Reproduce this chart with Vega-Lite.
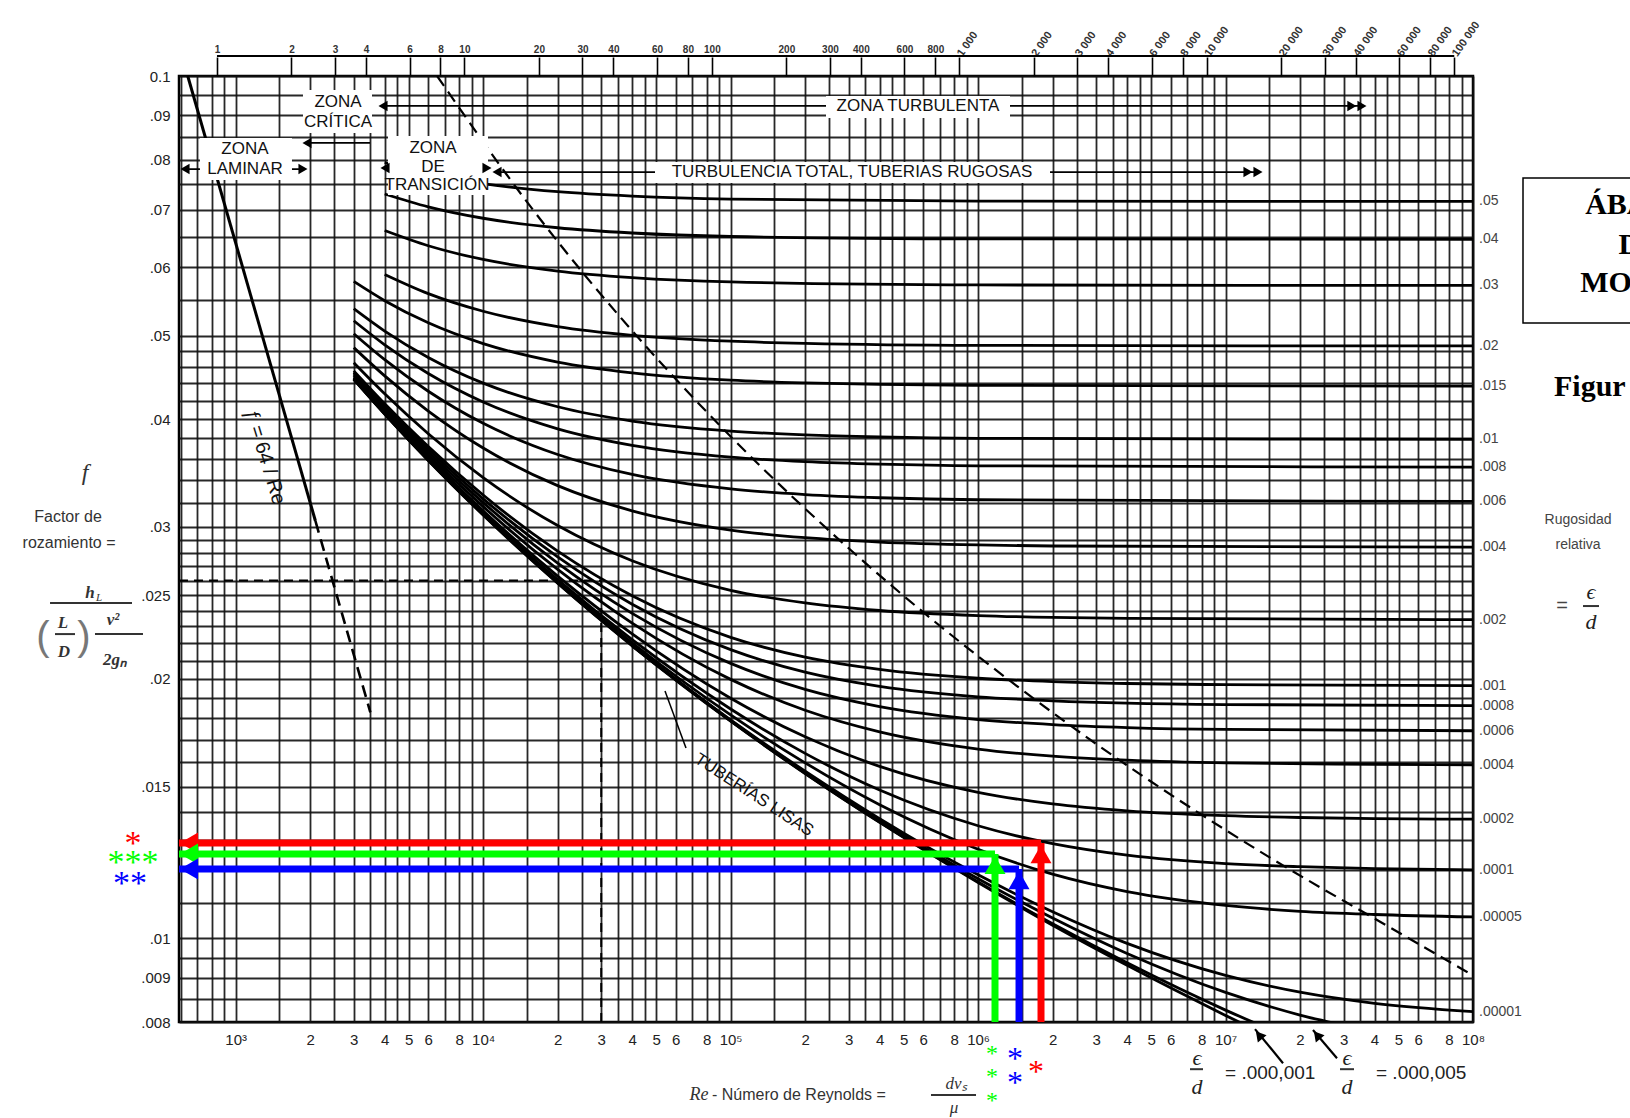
{
"$schema": "https://vega.github.io/schema/vega-lite/v6.json",
"width": 1294,
"height": 946,
"autosize": {"type": "none"},
"padding": {"left": 179, "top": 76, "right": 157, "bottom": 96},
"background": "white",
"config": {"view": {"stroke": "black", "strokeWidth": 2.5}, "font": "Liberation Sans"},
"resolve": {"axis": {"x": "independent", "y": "independent"}},
"datasets": {
"curvas": [
{"e":".05","Re":4000,"f":0.07938},{"e":".05","Re":6000,"f":0.07704},{"e":".05","Re":10000,"f":0.07504},{"e":".05","Re":20000,"f":0.07343},{"e":".05","Re":40000,"f":0.07257},{"e":".05","Re":100000,"f":0.072},{"e":".05","Re":1000000,"f":0.07161},{"e":".05","Re":100000000,"f":0.07155},
{"e":".04","Re":4000,"f":0.07298},{"e":".04","Re":6000,"f":0.07052},{"e":".04","Re":10000,"f":0.0684},{"e":".04","Re":20000,"f":0.06669},{"e":".04","Re":40000,"f":0.06576},{"e":".04","Re":100000,"f":0.06515},{"e":".04","Re":1000000,"f":0.06473},{"e":".04","Re":100000000,"f":0.06467},
{"e":".03","Re":4000,"f":0.0662},{"e":".03","Re":6000,"f":0.06356},{"e":".03","Re":10000,"f":0.06127},{"e":".03","Re":20000,"f":0.0594},{"e":".03","Re":40000,"f":0.05837},{"e":".03","Re":100000,"f":0.0577},{"e":".03","Re":1000000,"f":0.05724},{"e":".03","Re":100000000,"f":0.05717},
{"e":".02","Re":4000,"f":0.05887},{"e":".02","Re":6000,"f":0.05593},{"e":".02","Re":10000,"f":0.05336},{"e":".02","Re":20000,"f":0.05122},{"e":".02","Re":40000,"f":0.05004},{"e":".02","Re":100000,"f":0.04926},{"e":".02","Re":200000,"f":0.04897},{"e":".02","Re":1000000,"f":0.04871},{"e":".02","Re":100000000,"f":0.04864},
{"e":".015","Re":3000,"f":0.05778},{"e":".015","Re":4000,"f":0.05489},{"e":".015","Re":6000,"f":0.05174},{"e":".015","Re":10000,"f":0.04895},{"e":".015","Re":20000,"f":0.04659},{"e":".015","Re":40000,"f":0.04527},{"e":".015","Re":100000,"f":0.04439},{"e":".015","Re":200000,"f":0.04407},{"e":".015","Re":400000,"f":0.04389},{"e":".015","Re":1000000,"f":0.04378},{"e":".015","Re":100000000,"f":0.04369},
{"e":".01","Re":3000,"f":0.05373},{"e":".01","Re":4000,"f":0.05061},{"e":".01","Re":6000,"f":0.04717},{"e":".01","Re":10000,"f":0.04404},{"e":".01","Re":20000,"f":0.04135},{"e":".01","Re":40000,"f":0.0398},{"e":".01","Re":100000,"f":0.03875},{"e":".01","Re":200000,"f":0.03836},{"e":".01","Re":400000,"f":0.03815},{"e":".01","Re":1000000,"f":0.03801},{"e":".01","Re":100000000,"f":0.0379},
{"e":".008","Re":3000,"f":0.05202},{"e":".008","Re":4000,"f":0.04879},{"e":".008","Re":6000,"f":0.04519},{"e":".008","Re":10000,"f":0.04188},{"e":".008","Re":20000,"f":0.03898},{"e":".008","Re":40000,"f":0.0373},{"e":".008","Re":100000,"f":0.03614},{"e":".008","Re":200000,"f":0.03571},{"e":".008","Re":400000,"f":0.03547},{"e":".008","Re":1000000,"f":0.03532},{"e":".008","Re":100000000,"f":0.0352},
{"e":".006","Re":3000,"f":0.05025},{"e":".006","Re":4000,"f":0.04689},{"e":".006","Re":6000,"f":0.0431},{"e":".006","Re":10000,"f":0.03956},{"e":".006","Re":20000,"f":0.0364},{"e":".006","Re":40000,"f":0.03451},{"e":".006","Re":100000,"f":0.0332},{"e":".006","Re":200000,"f":0.03271},{"e":".006","Re":400000,"f":0.03243},{"e":".006","Re":1000000,"f":0.03226},{"e":".006","Re":100000000,"f":0.03212},
{"e":".004","Re":3000,"f":0.04842},{"e":".004","Re":4000,"f":0.0449},{"e":".004","Re":6000,"f":0.04088},{"e":".004","Re":10000,"f":0.03704},{"e":".004","Re":20000,"f":0.0335},{"e":".004","Re":40000,"f":0.03132},{"e":".004","Re":100000,"f":0.02975},{"e":".004","Re":200000,"f":0.02915},{"e":".004","Re":400000,"f":0.02881},{"e":".004","Re":1000000,"f":0.02859},{"e":".004","Re":2000000,"f":0.02851},{"e":".004","Re":100000000,"f":0.02842},
{"e":".002","Re":3000,"f":0.0465},{"e":".002","Re":4000,"f":0.0428},{"e":".002","Re":6000,"f":0.03847},{"e":".002","Re":10000,"f":0.03422},{"e":".002","Re":20000,"f":0.03011},{"e":".002","Re":40000,"f":0.02741},{"e":".002","Re":100000,"f":0.02533},{"e":".002","Re":200000,"f":0.02449},{"e":".002","Re":400000,"f":0.024},{"e":".002","Re":1000000,"f":0.02368},{"e":".002","Re":2000000,"f":0.02356},{"e":".002","Re":4000000,"f":0.0235},{"e":".002","Re":100000000,"f":0.02342},
{"e":".001","Re":3000,"f":0.04551},{"e":".001","Re":4000,"f":0.04169},{"e":".001","Re":6000,"f":0.03719},{"e":".001","Re":10000,"f":0.03267},{"e":".001","Re":20000,"f":0.02812},{"e":".001","Re":40000,"f":0.02496},{"e":".001","Re":100000,"f":0.02234},{"e":".001","Re":200000,"f":0.02119},{"e":".001","Re":400000,"f":0.02051},{"e":".001","Re":1000000,"f":0.02003},{"e":".001","Re":2000000,"f":0.01985},{"e":".001","Re":4000000,"f":0.01975},{"e":".001","Re":10000000,"f":0.01969},{"e":".001","Re":100000000,"f":0.01964},
{"e":".0008","Re":3000,"f":0.04531},{"e":".0008","Re":4000,"f":0.04146},{"e":".0008","Re":6000,"f":0.03692},{"e":".0008","Re":10000,"f":0.03234},{"e":".0008","Re":20000,"f":0.02769},{"e":".0008","Re":40000,"f":0.02441},{"e":".0008","Re":100000,"f":0.02162},{"e":".0008","Re":200000,"f":0.02036},{"e":".0008","Re":400000,"f":0.0196},{"e":".0008","Re":1000000,"f":0.01906},{"e":".0008","Re":2000000,"f":0.01886},{"e":".0008","Re":4000000,"f":0.01874},{"e":".0008","Re":10000000,"f":0.01867},{"e":".0008","Re":100000000,"f":0.01862},
{"e":".0006","Re":3000,"f":0.04511},{"e":".0006","Re":4000,"f":0.04124},{"e":".0006","Re":6000,"f":0.03665},{"e":".0006","Re":10000,"f":0.03201},{"e":".0006","Re":20000,"f":0.02724},{"e":".0006","Re":40000,"f":0.02382},{"e":".0006","Re":100000,"f":0.02084},{"e":".0006","Re":200000,"f":0.01944},{"e":".0006","Re":400000,"f":0.01857},{"e":".0006","Re":1000000,"f":0.01794},{"e":".0006","Re":2000000,"f":0.0177},{"e":".0006","Re":4000000,"f":0.01756},{"e":".0006","Re":10000000,"f":0.01747},{"e":".0006","Re":100000000,"f":0.01741},
{"e":".0004","Re":3000,"f":0.0449},{"e":".0004","Re":4000,"f":0.04101},{"e":".0004","Re":6000,"f":0.03638},{"e":".0004","Re":10000,"f":0.03167},{"e":".0004","Re":20000,"f":0.02678},{"e":".0004","Re":40000,"f":0.02321},{"e":".0004","Re":100000,"f":0.01997},{"e":".0004","Re":200000,"f":0.01839},{"e":".0004","Re":400000,"f":0.01736},{"e":".0004","Re":1000000,"f":0.01658},{"e":".0004","Re":2000000,"f":0.01627},{"e":".0004","Re":4000000,"f":0.0161},{"e":".0004","Re":10000000,"f":0.01598},{"e":".0004","Re":40000000,"f":0.01592},{"e":".0004","Re":100000000,"f":0.0159},
{"e":".0002","Re":3000,"f":0.0447},{"e":".0002","Re":4000,"f":0.04078},{"e":".0002","Re":6000,"f":0.03611},{"e":".0002","Re":10000,"f":0.03132},{"e":".0002","Re":20000,"f":0.02631},{"e":".0002","Re":40000,"f":0.02255},{"e":".0002","Re":100000,"f":0.01899},{"e":".0002","Re":200000,"f":0.01713},{"e":".0002","Re":400000,"f":0.01583},{"e":".0002","Re":1000000,"f":0.01477},{"e":".0002","Re":2000000,"f":0.01432},{"e":".0002","Re":4000000,"f":0.01406},{"e":".0002","Re":10000000,"f":0.01388},{"e":".0002","Re":20000000,"f":0.01381},{"e":".0002","Re":40000000,"f":0.01377},{"e":".0002","Re":100000000,"f":0.01375},
{"e":".0001","Re":3000,"f":0.04459},{"e":".0001","Re":4000,"f":0.04066},{"e":".0001","Re":6000,"f":0.03597},{"e":".0001","Re":10000,"f":0.03115},{"e":".0001","Re":20000,"f":0.02606},{"e":".0001","Re":40000,"f":0.0222},{"e":".0001","Re":100000,"f":0.01845},{"e":".0001","Re":200000,"f":0.01639},{"e":".0001","Re":400000,"f":0.01486},{"e":".0001","Re":1000000,"f":0.01351},{"e":".0001","Re":2000000,"f":0.01288},{"e":".0001","Re":4000000,"f":0.01249},{"e":".0001","Re":10000000,"f":0.01221},{"e":".0001","Re":20000000,"f":0.01211},{"e":".0001","Re":40000000,"f":0.01205},{"e":".0001","Re":100000000,"f":0.01201},
{"e":".00005","Re":3000,"f":0.04454},{"e":".00005","Re":4000,"f":0.04061},{"e":".00005","Re":6000,"f":0.0359},{"e":".00005","Re":10000,"f":0.03106},{"e":".00005","Re":20000,"f":0.02594},{"e":".00005","Re":40000,"f":0.02202},{"e":".00005","Re":100000,"f":0.01816},{"e":".00005","Re":200000,"f":0.01598},{"e":".00005","Re":400000,"f":0.01429},{"e":".00005","Re":1000000,"f":0.01269},{"e":".00005","Re":2000000,"f":0.01187},{"e":".00005","Re":4000000,"f":0.01133},{"e":".00005","Re":10000000,"f":0.01092},{"e":".00005","Re":20000000,"f":0.01075},{"e":".00005","Re":40000000,"f":0.01066},{"e":".00005","Re":100000000,"f":0.01059},
{"e":".00001","Re":3000,"f":0.0445},{"e":".00001","Re":4000,"f":0.04056},{"e":".00001","Re":6000,"f":0.03585},{"e":".00001","Re":10000,"f":0.03099},{"e":".00001","Re":20000,"f":0.02584},{"e":".00001","Re":40000,"f":0.02188},{"e":".00001","Re":100000,"f":0.01792},{"e":".00001","Re":200000,"f":0.01563},{"e":".00001","Re":400000,"f":0.01377},{"e":".00001","Re":1000000,"f":0.01185},{"e":".00001","Re":2000000,"f":0.01074},{"e":".00001","Re":4000000,"f":0.009868},{"e":".00001","Re":10000000,"f":0.009059},{"e":".00001","Re":20000000,"f":0.008662},{"e":".00001","Re":40000000,"f":0.008409},{"e":".00001","Re":100000000,"f":0.008224},
{"e":".000005","Re":40000,"f":0.02185},{"e":".000005","Re":100000,"f":0.01789},{"e":".000005","Re":200000,"f":0.01558},{"e":".000005","Re":400000,"f":0.0137},{"e":".000005","Re":1000000,"f":0.01173},{"e":".000005","Re":2000000,"f":0.01056},{"e":".000005","Re":4000000,"f":0.009605},{"e":".000005","Re":10000000,"f":0.008657},{"e":".000005","Re":20000000,"f":0.00815},{"e":".000005","Re":40000000,"f":0.007798},
{"e":".000001","Re":40000,"f":0.02184},{"e":".000001","Re":100000,"f":0.01787},{"e":".000001","Re":200000,"f":0.01554},{"e":".000001","Re":400000,"f":0.01364},{"e":".000001","Re":1000000,"f":0.01163},{"e":".000001","Re":2000000,"f":0.0104},{"e":".000001","Re":4000000,"f":0.009369},{"e":".000001","Re":10000000,"f":0.008258},{"e":".000001","Re":20000000,"f":0.007583},
{"e":"liso","Re":3000,"f":0.04449},{"e":"liso","Re":4000,"f":0.04055},{"e":"liso","Re":6000,"f":0.03583},{"e":"liso","Re":10000,"f":0.03097},{"e":"liso","Re":20000,"f":0.02581},{"e":"liso","Re":40000,"f":0.02184},{"e":"liso","Re":100000,"f":0.01786},{"e":"liso","Re":200000,"f":0.01553},{"e":"liso","Re":400000,"f":0.01363},{"e":"liso","Re":1000000,"f":0.01161},{"e":"liso","Re":2000000,"f":0.01036},{"e":"liso","Re":4000000,"f":0.009306},{"e":"liso","Re":10000000,"f":0.008142},{"e":"liso","Re":20000000,"f":0.0074}
],
"limite": [{"Re":6514,"f":0.1},{"Re":14950,"f":0.0716},{"Re":27880,"f":0.05717},{"Re":45340,"f":0.04864},{"Re":102730,"f":0.0379},{"Re":296600,"f":0.02842},{"Re":653400,"f":0.02342},{"Re":1427000,"f":0.01964},{"Re":3966000,"f":0.0159},{"Re":8529000,"f":0.01375},{"Re":18270000,"f":0.01201},{"Re":38950000,"f":0.01059},{"Re":100000000,"f":0.00906}],
"laminar_continuo": [{"Re":640,"f":0.1},{"Re":2100,"f":0.03048}],
"laminar_discontinuo": [{"Re":2100,"f":0.03048},{"Re":3500,"f":0.01829}],
"ejemplo": [{"Re1":590,"f1":0.026,"Re2":30000,"f2":0.026},{"Re1":30000,"f1":0.008,"Re2":30000,"f2":0.026}],
"eje_superior": [{"Re":840},{"Re":84000000}],
"corchete": [{"Re1":840,"Re2":84000000,"f":0.10548}],
"cajas": [
{"Re1":1870,"Re2":3555,"f1":0.09633,"f2":0.08588},
{"Re1":717,"Re2":1688,"f1":0.08475,"f2":0.07575},
{"Re1":4125,"Re2":10460,"f1":0.0852,"f2":0.07278},
{"Re1":242900,"Re2":1345900,"f1":0.0948,"f2":0.08939},
{"Re1":49480,"Re2":1953000,"f1":0.0795,"f2":0.07515}
],
"flechas_zona": [
{"Re1":624,"Re2":1870,"f":0.078},
{"Re1":1941,"Re2":3489,"f":0.08363},
{"Re1":4012,"Re2":10363,"f":0.07822},
{"Re1":3938,"Re2":35590000,"f":0.09231},
{"Re1":11375,"Re2":13527000,"f":0.07738}
],
"puntas_zona": [
{"Re":624,"f":0.078,"dir":"izq"},{"Re":1870,"f":0.078,"dir":"der"},
{"Re":1941,"f":0.08363,"dir":"izq"},
{"Re":4012,"f":0.07822,"dir":"izq"},{"Re":10363,"f":0.07822,"dir":"der"},
{"Re":3938,"f":0.09231,"dir":"izq"},{"Re":35590000,"f":0.09231,"dir":"der"},{"Re":32400000,"f":0.09231,"dir":"der"},
{"Re":11375,"f":0.07738,"dir":"izq"},{"Re":13527000,"f":0.07738,"dir":"der"},{"Re":12320000,"f":0.07738,"dir":"der"}
],
"zonas": [
{"t":"ZONA","Re":2591,"f":0.0933},{"t":"CRÍTICA","Re":2591,"f":0.08845},
{"t":"ZONA","Re":1090,"f":0.08228},{"t":"LAMINAR","Re":1090,"f":0.078},
{"t":"ZONA","Re":6271,"f":0.0825},{"t":"DE","Re":6271,"f":0.07843},{"t":"TRANSICIÓN","Re":6508,"f":0.07472},
{"t":"ZONA TURBULENTA","Re":571700,"f":0.09231},
{"t":"TURBULENCIA TOTAL, TUBERIAS RUGOSAS","Re":309400,"f":0.07738}
],
"lam_texto": [{"t":"ƒ = 64 / Re","Re":1313,"f":0.03616}],
"lisas_texto": [{"t":"TUBERÍAS LISAS","Re":124300,"f":0.014665}],
"lisas_guia": [{"Re1":66010,"f1":0.016627,"Re2":54300,"f2":0.019358}],
"rugosidad": [{"t":".05","f":0.07155},{"t":".04","f":0.06467},{"t":".03","f":0.05717},{"t":".02","f":0.04864},{"t":".015","f":0.04369},{"t":".01","f":0.0379},{"t":".008","f":0.0352},{"t":".006","f":0.03212},{"t":".004","f":0.02842},{"t":".002","f":0.02342},{"t":".001","f":0.01964},{"t":".0008","f":0.01862},{"t":".0006","f":0.01741},{"t":".0004","f":0.0159},{"t":".0002","f":0.01375},{"t":".0001","f":0.01201},{"t":".00005","f":0.01059},{"t":".00001","f":0.008224}],
"flechas_color": [
{"serie":"rojo","Re1":1796000,"f1":0.008,"Re2":1796000,"f2":0.0129},
{"serie":"rojo","Re1":1796000,"f1":0.0129,"Re2":590,"f2":0.0129},
{"serie":"verde","Re1":1170500,"f1":0.008,"Re2":1170500,"f2":0.012527},
{"serie":"verde","Re1":1170500,"f1":0.012527,"Re2":590,"f2":0.012527},
{"serie":"azul","Re1":1463700,"f1":0.008,"Re2":1463700,"f2":0.012035},
{"serie":"azul","Re1":1463700,"f1":0.012035,"Re2":590,"f2":0.012035}
],
"puntas_arriba": [{"serie":"rojo","Re":1796000,"f":0.0129},{"serie":"verde","Re":1170500,"f":0.012527},{"serie":"azul","Re":1463700,"f":0.012035}],
"puntas_izq": [{"serie":"rojo","Re":590,"f":0.0129},{"serie":"verde","Re":590,"f":0.012527},{"serie":"azul","Re":590,"f":0.012035}],
"ast_izq": [{"serie":"rojo","t":"*","Re":384.6,"f":0.013036},{"serie":"verde","t":"***","Re":384.6,"f":0.012392},{"serie":"azul","t":"**","Re":374,"f":0.011722}],
"ast_inf_verde": [{"serie":"verde","t":"*","Re":1138300,"f":0.007422},{"serie":"verde","t":"*","Re":1138300,"f":0.006978},{"serie":"verde","t":"*","Re":1138300,"f":0.006547}],
"ast_inf": [{"serie":"azul","t":"*","Re":1410400,"f":0.007322},{"serie":"azul","t":"*","Re":1410400,"f":0.006868},{"serie":"rojo","t":"*","Re":1714400,"f":0.007072}],
"izq_sans": [{"t":"Factor de","Re":210.1,"f":0.03081},{"t":"rozamiento =","Re":212.1,"f":0.02874}],
"izq_f": [{"t":"f","Re":246,"f":0.03465}],
"izq_formula": [{"t":"h","Re":257.7,"f":0.02515},{"t":"L","Re":200.5,"f":0.023204},{"t":"D","Re":202.3,"f":0.021479},{"t":"v²","Re":319.3,"f":0.0234},{"t":"2gₙ","Re":325.3,"f":0.021025}],
"izq_sub": [{"t":"L","Re":280.3,"f":0.024812}],
"izq_par": [{"t":"(","Re":166.4,"f":0.0223},{"t":")","Re":243.7,"f":0.0223}],
"barras": [
{"Re1":177.7,"Re2":381,"f":0.02448},{"Re1":186.1,"Re2":224.2,"f":0.022537},{"Re1":270,"Re2":422,"f":0.022537},
{"Re1":645200,"Re2":980900,"f":0.006582},
{"Re1":7185000,"Re2":8108000,"f":0.007053},{"Re1":29010000,"Re2":33050000,"f":0.007053},
{"Re1":278360000,"Re2":322950000,"f":0.024289}
],
"inf_re": [{"t":"Re","Re":74510,"f":0.006582}],
"inf_sans": [{"t":"- Número de Reynolds =","Re":84070,"f":0.006582}],
"inf_serif": [{"t":"dvₛ","Re":814300,"f":0.006778},{"t":"μ","Re":799300,"f":0.006358}],
"ed_serif": [{"t":"ϵ","Re":7668000,"f":0.007263},{"t":"d","Re":7668000,"f":0.006724},{"t":"ϵ","Re":30960000,"f":0.007263},{"t":"d","Re":30960000,"f":0.006724},{"t":"ϵ","Re":299930000,"f":0.025215},{"t":"d","Re":299930000,"f":0.02327}],
"ed_sans": [{"t":"=  .000,001","Re":9950000,"f":0.006978},{"t":"=  .000,005","Re":40550000,"f":0.006978}],
"ed_flechas": [{"Re1":17075000,"f1":0.007167,"Re2":13155000,"f2":0.00785},{"Re1":28210000,"f1":0.007263,"Re2":22560000,"f2":0.00783}],
"ed_puntas": [{"Re":13655000,"f":0.007726},{"Re":23425000,"f":0.007726}],
"caja_der": [{"Re1":159250000,"Re2":473100000,"f1":0.076143,"f2":0.051706}],
"titulo_der": [{"t":"ÁBACO","Re":470000000,"f":0.070857},{"t":"DE","Re":470000000,"f":0.063687},{"t":"MOODY","Re":470000000,"f":0.05754}],
"figura": [{"t":"Figur","Re":212470000,"f":0.043587}],
"rug_texto": [{"t":"Rugosidad","Re":265720000,"f":0.030566},{"t":"relativa","Re":265720000,"f":0.028583}],
"rug_igual": [{"t":"=","Re":228860000,"f":0.024289}]
},
"layer": [
{
"data": {"name": "curvas"},
"mark": {"type": "line", "stroke": "black", "strokeWidth": 2.8, "interpolate": "monotone", "clip": true},
"encoding": {
"x": {"field": "Re", "type": "quantitative", "scale": {"type": "log", "domain": [590, 100000000], "nice": false, "zero": false},
"axis": {"orient": "bottom", "values": [600,700,800,900,1000,1500,2000,2500,3000,3500,4000,4500,5000,6000,7000,8000,9000,10000,15000,20000,25000,30000,35000,40000,45000,50000,60000,70000,80000,90000,100000,150000,200000,250000,300000,350000,400000,450000,500000,600000,700000,800000,900000,1000000,1500000,2000000,2500000,3000000,3500000,4000000,4500000,5000000,6000000,7000000,8000000,9000000,10000000,15000000,20000000,25000000,30000000,35000000,40000000,45000000,50000000,60000000,70000000,80000000,90000000,100000000],
"grid": true, "gridColor": "#111", "gridWidth": 1.8, "gridOpacity": 0.9, "ticks": false, "domain": false, "title": null,
"labelOverlap": false, "labelFlush": false, "labelPadding": 10, "labelFontSize": 15, "labelColor": "#222", "labelFont": "Liberation Sans Narrow, Liberation Sans, sans-serif",
"labelExpr": "datum.value < 999 ? '' : (abs(datum.value / pow(10, floor(log(datum.value) / LN10 + 1e-9)) - 1) < 1e-6 ? '10' + ['','','','³','⁴','⁵','⁶','⁷','⁸'][floor(log(datum.value) / LN10 + 1e-9)] : (indexof([2,3,4,5,6,8], round(datum.value / pow(10, floor(log(datum.value) / LN10 + 1e-9)) * 10) / 10) >= 0 ? toString(round(datum.value / pow(10, floor(log(datum.value) / LN10 + 1e-9)))) : ''))"}},
"y": {"field": "f", "type": "quantitative", "scale": {"type": "log", "domain": [0.008, 0.1], "nice": false, "zero": false},
"axis": {"orient": "left", "values": [0.008,0.0085,0.009,0.0095,0.01,0.011,0.012,0.013,0.014,0.015,0.016,0.017,0.018,0.019,0.02,0.021,0.022,0.023,0.024,0.025,0.026,0.027,0.028,0.029,0.03,0.032,0.034,0.036,0.038,0.04,0.042,0.044,0.046,0.048,0.05,0.055,0.06,0.065,0.07,0.075,0.08,0.085,0.09,0.095,0.1],
"grid": true, "gridColor": "#111", "gridWidth": 1.8, "gridOpacity": 0.9, "ticks": false, "domain": false, "title": null,
"labelOverlap": false, "labelFlush": false, "labelPadding": 9, "labelFontSize": 15, "labelColor": "#222", "labelFont": "Liberation Sans Narrow, Liberation Sans, sans-serif",
"labelExpr": "datum.value == 0.1 ? '0.1' : (indexof([0.09,0.08,0.07,0.06,0.05,0.04,0.03,0.025,0.02,0.015,0.01,0.009,0.008], datum.value) >= 0 ? substring(toString(datum.value), 1) : '')"}},
"detail": {"field": "e", "type": "nominal"}
}
},
{
"data": {"name": "eje_superior"},
"mark": {"type": "point", "opacity": 0},
"encoding": {
"x": {"field": "Re", "type": "quantitative", "scale": {"type": "log"},
"axis": {"orient": "top", "values": [840,1680,2520,3360,5040,6720,8400,16800,25200,33600,50400,67200,84000,168000,252000,336000,504000,672000],
"grid": false, "domain": false, "ticks": true, "tickSize": 19, "tickColor": "black", "tickWidth": 1.6, "title": null,
"labelOverlap": false, "labelFlush": false, "labelPadding": 3, "labelFontSize": 10, "labelFontWeight": "bold", "labelColor": "#333", "labelAngle": 0,
"labelExpr": "toString(round(datum.value / 840))"}},
"y": {"datum": 0.1, "type": "quantitative", "scale": {"type": "log"}, "axis": null}
}
},
{
"data": {"name": "eje_superior"},
"mark": {"type": "point", "opacity": 0},
"encoding": {
"x": {"field": "Re", "type": "quantitative", "scale": {"type": "log"},
"axis": {"orient": "top", "values": [840000,1680000,2520000,3360000,5040000,6720000,8400000,16800000,25200000,33600000,50400000,67200000,84000000],
"grid": false, "domain": false, "ticks": true, "tickSize": 19, "tickColor": "black", "tickWidth": 1.6, "title": null,
"labelOverlap": false, "labelFlush": false, "labelPadding": 2, "labelFontSize": 11, "labelFontWeight": "bold", "labelColor": "#333",
"labelAngle": -55, "labelAlign": "left", "labelBaseline": "middle",
"labelExpr": "floor(round(datum.value / 840) / 1000) + ' 000'"}},
"y": {"datum": 0.1, "type": "quantitative", "scale": {"type": "log"}, "axis": null}
}
},
{
"data": {"name": "corchete"},
"mark": {"type": "rule", "stroke": "black", "strokeWidth": 1.8},
"encoding": {
"x": {"field": "Re1", "type": "quantitative", "scale": {"type": "log"}, "axis": null},
"x2": {"field": "Re2"},
"y": {"field": "f", "type": "quantitative", "scale": {"type": "log"}, "axis": null}
}
},
{
"data": {"name": "limite"},
"mark": {"type": "line", "stroke": "black", "strokeWidth": 2.2, "strokeDash": [12, 7], "interpolate": "monotone", "clip": true},
"encoding": {
"x": {"field": "Re", "type": "quantitative", "scale": {"type": "log"}, "axis": null},
"y": {"field": "f", "type": "quantitative", "scale": {"type": "log"}, "axis": null}
}
},
{
"data": {"name": "laminar_continuo"},
"mark": {"type": "line", "stroke": "black", "strokeWidth": 3},
"encoding": {
"x": {"field": "Re", "type": "quantitative", "scale": {"type": "log"}, "axis": null},
"y": {"field": "f", "type": "quantitative", "scale": {"type": "log"}, "axis": null}
}
},
{
"data": {"name": "laminar_discontinuo"},
"mark": {"type": "line", "stroke": "black", "strokeWidth": 2.6, "strokeDash": [12, 7]},
"encoding": {
"x": {"field": "Re", "type": "quantitative", "scale": {"type": "log"}, "axis": null},
"y": {"field": "f", "type": "quantitative", "scale": {"type": "log"}, "axis": null}
}
},
{
"data": {"name": "ejemplo"},
"mark": {"type": "rule", "stroke": "black", "strokeWidth": 2, "strokeDash": [9, 6]},
"encoding": {
"x": {"field": "Re1", "type": "quantitative", "scale": {"type": "log"}, "axis": null},
"x2": {"field": "Re2"},
"y": {"field": "f1", "type": "quantitative", "scale": {"type": "log"}, "axis": null},
"y2": {"field": "f2"}
}
},
{
"data": {"name": "flechas_zona"},
"mark": {"type": "rule", "stroke": "black", "strokeWidth": 1.8},
"encoding": {
"x": {"field": "Re1", "type": "quantitative", "scale": {"type": "log"}, "axis": null},
"x2": {"field": "Re2"},
"y": {"field": "f", "type": "quantitative", "scale": {"type": "log"}, "axis": null}
}
},
{
"data": {"name": "cajas"},
"mark": {"type": "rect", "fill": "white"},
"encoding": {
"x": {"field": "Re1", "type": "quantitative", "scale": {"type": "log"}, "axis": null},
"x2": {"field": "Re2"},
"y": {"field": "f1", "type": "quantitative", "scale": {"type": "log"}, "axis": null},
"y2": {"field": "f2"}
}
},
{
"data": {"name": "puntas_zona"},
"mark": {"type": "point", "filled": true, "color": "black", "size": 110, "opacity": 1},
"encoding": {
"x": {"field": "Re", "type": "quantitative", "scale": {"type": "log"}, "axis": null},
"y": {"field": "f", "type": "quantitative", "scale": {"type": "log"}, "axis": null},
"shape": {"field": "dir", "type": "nominal", "scale": {"domain": ["izq", "der"], "range": ["triangle-left", "triangle-right"]}, "legend": null}
}
},
{
"data": {"name": "zonas"},
"mark": {"type": "text", "font": "Liberation Sans", "fontSize": 17, "color": "#111", "align": "center", "baseline": "middle"},
"encoding": {
"x": {"field": "Re", "type": "quantitative", "scale": {"type": "log"}, "axis": null},
"y": {"field": "f", "type": "quantitative", "scale": {"type": "log"}, "axis": null},
"text": {"field": "t", "type": "nominal"}
}
},
{
"data": {"name": "lam_texto"},
"mark": {"type": "text", "font": "Liberation Sans", "fontSize": 20, "color": "#111", "align": "center", "baseline": "middle", "angle": 73},
"encoding": {
"x": {"field": "Re", "type": "quantitative", "scale": {"type": "log"}, "axis": null},
"y": {"field": "f", "type": "quantitative", "scale": {"type": "log"}, "axis": null},
"text": {"field": "t", "type": "nominal"}
}
},
{
"data": {"name": "lisas_texto"},
"mark": {"type": "text", "font": "Liberation Sans", "fontSize": 17, "color": "#111", "align": "center", "baseline": "middle", "angle": 33},
"encoding": {
"x": {"field": "Re", "type": "quantitative", "scale": {"type": "log"}, "axis": null},
"y": {"field": "f", "type": "quantitative", "scale": {"type": "log"}, "axis": null},
"text": {"field": "t", "type": "nominal"}
}
},
{
"data": {"name": "lisas_guia"},
"mark": {"type": "rule", "stroke": "black", "strokeWidth": 1.5},
"encoding": {
"x": {"field": "Re1", "type": "quantitative", "scale": {"type": "log"}, "axis": null},
"x2": {"field": "Re2"},
"y": {"field": "f1", "type": "quantitative", "scale": {"type": "log"}, "axis": null},
"y2": {"field": "f2"}
}
},
{
"data": {"name": "rugosidad"},
"mark": {"type": "text", "font": "Liberation Sans Narrow, Liberation Sans, sans-serif", "fontSize": 14, "color": "#444", "align": "left", "baseline": "middle", "dx": 6},
"encoding": {
"x": {"datum": 100000000, "type": "quantitative", "scale": {"type": "log"}, "axis": null},
"y": {"field": "f", "type": "quantitative", "scale": {"type": "log"}, "axis": null},
"text": {"field": "t", "type": "nominal"}
}
},
{
"data": {"name": "flechas_color"},
"mark": {"type": "rule", "strokeWidth": 7},
"encoding": {
"x": {"field": "Re1", "type": "quantitative", "scale": {"type": "log"}, "axis": null},
"x2": {"field": "Re2"},
"y": {"field": "f1", "type": "quantitative", "scale": {"type": "log"}, "axis": null},
"y2": {"field": "f2"},
"color": {"field": "serie", "type": "nominal", "scale": {"domain": ["rojo", "verde", "azul"], "range": ["#ff0000", "#00ff00", "#0000ff"]}, "legend": null}
}
},
{
"data": {"name": "puntas_arriba"},
"mark": {"type": "point", "shape": "triangle-up", "filled": true, "size": 440, "opacity": 1, "yOffset": 11},
"encoding": {
"x": {"field": "Re", "type": "quantitative", "scale": {"type": "log"}, "axis": null},
"y": {"field": "f", "type": "quantitative", "scale": {"type": "log"}, "axis": null},
"color": {"field": "serie", "type": "nominal", "scale": {"domain": ["rojo", "verde", "azul"], "range": ["#ff0000", "#00ff00", "#0000ff"]}, "legend": null}
}
},
{
"data": {"name": "puntas_izq"},
"mark": {"type": "point", "shape": "triangle-left", "filled": true, "size": 440, "opacity": 1, "xOffset": 10},
"encoding": {
"x": {"field": "Re", "type": "quantitative", "scale": {"type": "log"}, "axis": null},
"y": {"field": "f", "type": "quantitative", "scale": {"type": "log"}, "axis": null},
"color": {"field": "serie", "type": "nominal", "scale": {"domain": ["rojo", "verde", "azul"], "range": ["#ff0000", "#00ff00", "#0000ff"]}, "legend": null}
}
},
{
"data": {"name": "ast_izq"},
"mark": {"type": "text", "font": "Liberation Serif", "fontSize": 34, "align": "center", "baseline": "alphabetic", "dy": 15},
"encoding": {
"x": {"field": "Re", "type": "quantitative", "scale": {"type": "log"}, "axis": null},
"y": {"field": "f", "type": "quantitative", "scale": {"type": "log"}, "axis": null},
"text": {"field": "t", "type": "nominal"},
"color": {"field": "serie", "type": "nominal", "scale": {"domain": ["rojo", "verde", "azul"], "range": ["#ff0000", "#00ff00", "#0000ff"]}, "legend": null}
}
},
{
"data": {"name": "ast_inf_verde"},
"mark": {"type": "text", "font": "Liberation Serif", "fontSize": 24, "align": "center", "baseline": "alphabetic", "dy": 11},
"encoding": {
"x": {"field": "Re", "type": "quantitative", "scale": {"type": "log"}, "axis": null},
"y": {"field": "f", "type": "quantitative", "scale": {"type": "log"}, "axis": null},
"text": {"field": "t", "type": "nominal"},
"color": {"field": "serie", "type": "nominal", "scale": {"domain": ["rojo", "verde", "azul"], "range": ["#ff0000", "#00ff00", "#0000ff"]}, "legend": null}
}
},
{
"data": {"name": "ast_inf"},
"mark": {"type": "text", "font": "Liberation Serif", "fontSize": 32, "align": "center", "baseline": "alphabetic", "dy": 14},
"encoding": {
"x": {"field": "Re", "type": "quantitative", "scale": {"type": "log"}, "axis": null},
"y": {"field": "f", "type": "quantitative", "scale": {"type": "log"}, "axis": null},
"text": {"field": "t", "type": "nominal"},
"color": {"field": "serie", "type": "nominal", "scale": {"domain": ["rojo", "verde", "azul"], "range": ["#ff0000", "#00ff00", "#0000ff"]}, "legend": null}
}
},
{
"data": {"name": "izq_sans"},
"mark": {"type": "text", "font": "Liberation Sans", "fontSize": 16, "color": "#333", "align": "center", "baseline": "middle"},
"encoding": {
"x": {"field": "Re", "type": "quantitative", "scale": {"type": "log"}, "axis": null},
"y": {"field": "f", "type": "quantitative", "scale": {"type": "log"}, "axis": null},
"text": {"field": "t", "type": "nominal"}
}
},
{
"data": {"name": "izq_f"},
"mark": {"type": "text", "font": "Liberation Serif", "fontStyle": "italic", "fontSize": 24, "color": "#333", "align": "center", "baseline": "middle"},
"encoding": {
"x": {"field": "Re", "type": "quantitative", "scale": {"type": "log"}, "axis": null},
"y": {"field": "f", "type": "quantitative", "scale": {"type": "log"}, "axis": null},
"text": {"field": "t", "type": "nominal"}
}
},
{
"data": {"name": "izq_formula"},
"mark": {"type": "text", "font": "Liberation Serif", "fontStyle": "italic", "fontWeight": "bold", "fontSize": 17, "color": "#333", "align": "center", "baseline": "middle"},
"encoding": {
"x": {"field": "Re", "type": "quantitative", "scale": {"type": "log"}, "axis": null},
"y": {"field": "f", "type": "quantitative", "scale": {"type": "log"}, "axis": null},
"text": {"field": "t", "type": "nominal"}
}
},
{
"data": {"name": "izq_sub"},
"mark": {"type": "text", "font": "Liberation Serif", "fontStyle": "italic", "fontSize": 11, "color": "#333", "align": "center", "baseline": "middle"},
"encoding": {
"x": {"field": "Re", "type": "quantitative", "scale": {"type": "log"}, "axis": null},
"y": {"field": "f", "type": "quantitative", "scale": {"type": "log"}, "axis": null},
"text": {"field": "t", "type": "nominal"}
}
},
{
"data": {"name": "izq_par"},
"mark": {"type": "text", "font": "Liberation Sans", "fontSize": 40, "color": "#777", "align": "center", "baseline": "middle"},
"encoding": {
"x": {"field": "Re", "type": "quantitative", "scale": {"type": "log"}, "axis": null},
"y": {"field": "f", "type": "quantitative", "scale": {"type": "log"}, "axis": null},
"text": {"field": "t", "type": "nominal"}
}
},
{
"data": {"name": "barras"},
"mark": {"type": "rule", "stroke": "#333", "strokeWidth": 2},
"encoding": {
"x": {"field": "Re1", "type": "quantitative", "scale": {"type": "log"}, "axis": null},
"x2": {"field": "Re2"},
"y": {"field": "f", "type": "quantitative", "scale": {"type": "log"}, "axis": null}
}
},
{
"data": {"name": "inf_re"},
"mark": {"type": "text", "font": "Liberation Serif", "fontStyle": "italic", "fontSize": 18, "color": "#333", "align": "center", "baseline": "middle"},
"encoding": {
"x": {"field": "Re", "type": "quantitative", "scale": {"type": "log"}, "axis": null},
"y": {"field": "f", "type": "quantitative", "scale": {"type": "log"}, "axis": null},
"text": {"field": "t", "type": "nominal"}
}
},
{
"data": {"name": "inf_sans"},
"mark": {"type": "text", "font": "Liberation Sans", "fontSize": 16, "color": "#333", "align": "left", "baseline": "middle"},
"encoding": {
"x": {"field": "Re", "type": "quantitative", "scale": {"type": "log"}, "axis": null},
"y": {"field": "f", "type": "quantitative", "scale": {"type": "log"}, "axis": null},
"text": {"field": "t", "type": "nominal"}
}
},
{
"data": {"name": "inf_serif"},
"mark": {"type": "text", "font": "Liberation Serif", "fontStyle": "italic", "fontSize": 17, "color": "#333", "align": "center", "baseline": "middle"},
"encoding": {
"x": {"field": "Re", "type": "quantitative", "scale": {"type": "log"}, "axis": null},
"y": {"field": "f", "type": "quantitative", "scale": {"type": "log"}, "axis": null},
"text": {"field": "t", "type": "nominal"}
}
},
{
"data": {"name": "ed_serif"},
"mark": {"type": "text", "font": "Liberation Serif", "fontStyle": "italic", "fontSize": 22, "color": "#222", "align": "center", "baseline": "middle"},
"encoding": {
"x": {"field": "Re", "type": "quantitative", "scale": {"type": "log"}, "axis": null},
"y": {"field": "f", "type": "quantitative", "scale": {"type": "log"}, "axis": null},
"text": {"field": "t", "type": "nominal"}
}
},
{
"data": {"name": "ed_sans"},
"mark": {"type": "text", "font": "Liberation Sans", "fontSize": 19, "color": "#222", "align": "left", "baseline": "middle"},
"encoding": {
"x": {"field": "Re", "type": "quantitative", "scale": {"type": "log"}, "axis": null},
"y": {"field": "f", "type": "quantitative", "scale": {"type": "log"}, "axis": null},
"text": {"field": "t", "type": "nominal"}
}
},
{
"data": {"name": "ed_flechas"},
"mark": {"type": "rule", "stroke": "black", "strokeWidth": 2.2},
"encoding": {
"x": {"field": "Re1", "type": "quantitative", "scale": {"type": "log"}, "axis": null},
"x2": {"field": "Re2"},
"y": {"field": "f1", "type": "quantitative", "scale": {"type": "log"}, "axis": null},
"y2": {"field": "f2"}
}
},
{
"data": {"name": "ed_puntas"},
"mark": {"type": "point", "shape": "triangle-up", "filled": true, "color": "black", "size": 130, "opacity": 1, "angle": 320},
"encoding": {
"x": {"field": "Re", "type": "quantitative", "scale": {"type": "log"}, "axis": null},
"y": {"field": "f", "type": "quantitative", "scale": {"type": "log"}, "axis": null}
}
},
{
"data": {"name": "caja_der"},
"mark": {"type": "rect", "filled": false, "stroke": "black", "strokeWidth": 1.5},
"encoding": {
"x": {"field": "Re1", "type": "quantitative", "scale": {"type": "log"}, "axis": null},
"x2": {"field": "Re2"},
"y": {"field": "f1", "type": "quantitative", "scale": {"type": "log"}, "axis": null},
"y2": {"field": "f2"}
}
},
{
"data": {"name": "titulo_der"},
"mark": {"type": "text", "font": "Liberation Serif", "fontWeight": "bold", "fontSize": 30, "color": "black", "align": "center", "baseline": "middle"},
"encoding": {
"x": {"field": "Re", "type": "quantitative", "scale": {"type": "log"}, "axis": null},
"y": {"field": "f", "type": "quantitative", "scale": {"type": "log"}, "axis": null},
"text": {"field": "t", "type": "nominal"}
}
},
{
"data": {"name": "figura"},
"mark": {"type": "text", "font": "Liberation Serif", "fontWeight": "bold", "fontSize": 30, "color": "black", "align": "left", "baseline": "middle"},
"encoding": {
"x": {"field": "Re", "type": "quantitative", "scale": {"type": "log"}, "axis": null},
"y": {"field": "f", "type": "quantitative", "scale": {"type": "log"}, "axis": null},
"text": {"field": "t", "type": "nominal"}
}
},
{
"data": {"name": "rug_texto"},
"mark": {"type": "text", "font": "Liberation Sans", "fontSize": 14, "color": "#444", "align": "center", "baseline": "middle"},
"encoding": {
"x": {"field": "Re", "type": "quantitative", "scale": {"type": "log"}, "axis": null},
"y": {"field": "f", "type": "quantitative", "scale": {"type": "log"}, "axis": null},
"text": {"field": "t", "type": "nominal"}
}
},
{
"data": {"name": "rug_igual"},
"mark": {"type": "text", "font": "Liberation Sans", "fontSize": 20, "color": "#444", "align": "center", "baseline": "middle"},
"encoding": {
"x": {"field": "Re", "type": "quantitative", "scale": {"type": "log"}, "axis": null},
"y": {"field": "f", "type": "quantitative", "scale": {"type": "log"}, "axis": null},
"text": {"field": "t", "type": "nominal"}
}
}
]
}
